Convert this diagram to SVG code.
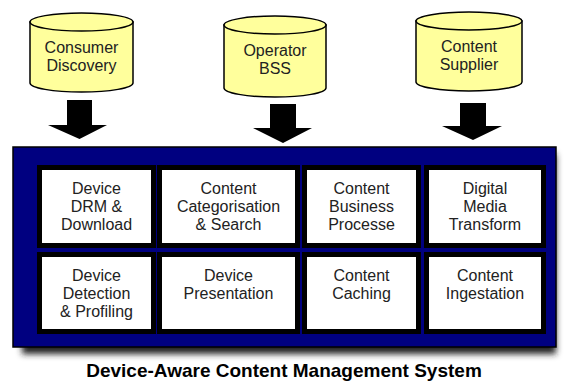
<svg xmlns="http://www.w3.org/2000/svg" width="567" height="383" viewBox="0 0 567 383">
<defs>
<style>
.cyl{fill:#FFFF9C;stroke:#000;stroke-width:1.5}
.arr{fill:#000}
.box{fill:#fff;stroke:#000;stroke-width:5}
.t{font-family:"Liberation Sans",Arial,sans-serif;font-size:16px;fill:#222;text-anchor:middle}
.title{font-family:"Liberation Sans",Arial,sans-serif;font-size:19px;font-weight:bold;fill:#000;text-anchor:middle}
</style>
<filter id="blur" x="-10%" y="-10%" width="120%" height="130%"><feGaussianBlur stdDeviation="3"/></filter>
</defs>
<rect width="567" height="383" fill="#fff"/>

<g id="consumer-discovery">
<path class="cyl" d="M30,22 L30,83 A51.5,9 0 0 0 133,83 L133,22 Z"/>
<ellipse class="cyl" cx="81.5" cy="22" rx="51.5" ry="9"/>
<text class="t" x="81.5" y="53">Consumer</text>
<text class="t" x="81.5" y="71">Discovery</text>
</g>
<g id="operator-bss">
<path class="cyl" d="M224,25 L224,88 A51,9 0 0 0 326,88 L326,25 Z"/>
<ellipse class="cyl" cx="275" cy="25" rx="51" ry="9"/>
<text class="t" x="275" y="56">Operator</text>
<text class="t" x="275" y="74">BSS</text>
</g>
<g id="content-supplier">
<path class="cyl" d="M416,21 L416,82 A53,9 0 0 0 522,82 L522,21 Z"/>
<ellipse class="cyl" cx="469" cy="21" rx="53" ry="9"/>
<text class="t" x="469" y="52">Content</text>
<text class="t" x="469" y="70">Supplier</text>
</g>

<g id="connectors">
<polygon class="arr" points="67,100 92,100 92,125 107,125 79.5,139 48,125 67,125"/>
<polygon class="arr" points="270,104 296,104 296,128 312,128 283,143 253,128 270,128"/>
<polygon class="arr" points="460,103 486,103 486,126 502,126 473,140 442,126 460,126"/>
</g>

<g id="cms">
<rect x="22" y="154" width="534" height="200" fill="#222" filter="url(#blur)"/>
<rect x="13" y="147" width="543" height="200" fill="#000080" stroke="#000" stroke-width="1.5"/>
<text class="title" x="284" y="377">Device-Aware Content Management System</text>
</g>

<g id="device-drm">
<rect class="box" x="39.5" y="167.5" width="114" height="78"/>
<text class="t" x="96.5" y="194">Device</text>
<text class="t" x="96.5" y="212">DRM &amp;</text>
<text class="t" x="96.5" y="230">Download</text>
</g>
<g id="content-categorisation">
<rect class="box" x="159.5" y="167.5" width="138" height="78"/>
<text class="t" x="228.5" y="194">Content</text>
<text class="t" x="228.5" y="212">Categorisation</text>
<text class="t" x="228.5" y="230">&amp; Search</text>
</g>
<g id="content-business">
<rect class="box" x="304.5" y="167.5" width="114" height="78"/>
<text class="t" x="361.5" y="194">Content</text>
<text class="t" x="361.5" y="212">Business</text>
<text class="t" x="361.5" y="230">Processe</text>
</g>
<g id="digital-media">
<rect class="box" x="426.5" y="167.5" width="117" height="78"/>
<text class="t" x="485" y="194">Digital</text>
<text class="t" x="485" y="212">Media</text>
<text class="t" x="485" y="230">Transform</text>
</g>
<g id="device-detection">
<rect class="box" x="39.5" y="254.5" width="114" height="77"/>
<text class="t" x="96.5" y="281">Device</text>
<text class="t" x="96.5" y="299">Detection</text>
<text class="t" x="96.5" y="317">&amp; Profiling</text>
</g>
<g id="device-presentation">
<rect class="box" x="159.5" y="254.5" width="138" height="77"/>
<text class="t" x="228.5" y="281">Device</text>
<text class="t" x="228.5" y="299">Presentation</text>
</g>
<g id="content-caching">
<rect class="box" x="304.5" y="254.5" width="114" height="77"/>
<text class="t" x="361.5" y="281">Content</text>
<text class="t" x="361.5" y="299">Caching</text>
</g>
<g id="content-ingestation">
<rect class="box" x="426.5" y="254.5" width="117" height="77"/>
<text class="t" x="485" y="281">Content</text>
<text class="t" x="485" y="299">Ingestation</text>
</g>
</svg>
